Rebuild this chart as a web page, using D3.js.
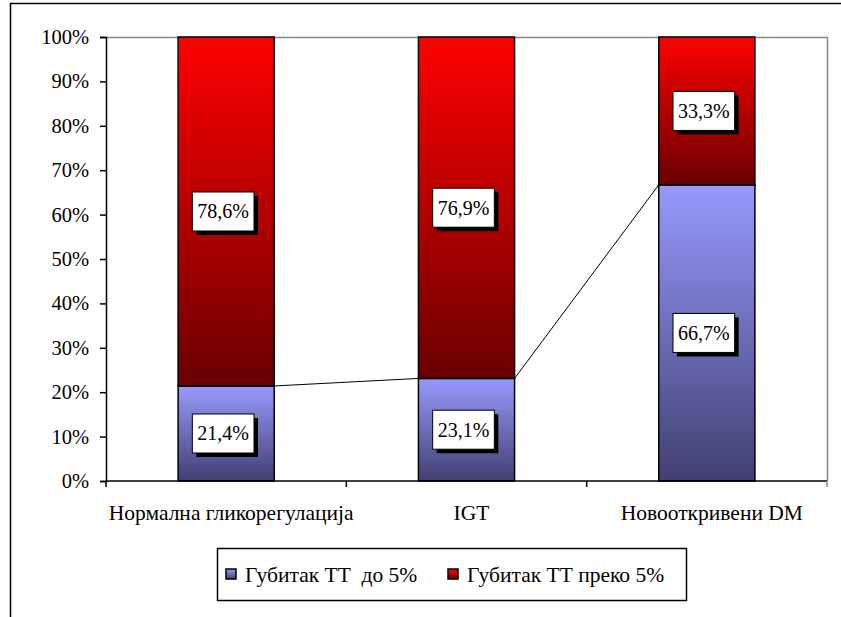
<!DOCTYPE html>
<html><head><meta charset="utf-8">
<script src="https://cdn.jsdelivr.net/npm/d3@7"></script>
<style>html,body{margin:0;padding:0;background:#fff;}svg{display:block;}</style>
</head><body>
<svg id="c" width="841" height="617"></svg>
<script>
const categories = ["Нормална гликорегулација", "IGT", "Новооткривени DM"];
const seriesNames = ["Губитак ТТ  до 5%", "Губитак ТТ преко 5%"];
const lossUpTo5 = [21.4, 23.1, 66.7];
const lossOver5 = [78.6, 76.9, 33.3];
const yTicks = [0, 10, 20, 30, 40, 50, 60, 70, 80, 90, 100];

(function () {
const FONT = '"Liberation Serif"';
const svg = d3.select("#c");
const defs = svg.append("defs");
function grad(id, c1, c2) {
  const g = defs.append("linearGradient").attr("id", id).attr("x1", 0).attr("y1", 0).attr("x2", 0).attr("y2", 1);
  g.append("stop").attr("offset", "0%").attr("stop-color", c1);
  g.append("stop").attr("offset", "100%").attr("stop-color", c2);
}
grad("gBlue", "#9999ff", "#404070");
grad("gRed", "#ff0000", "#6a0000");
const fills = ["url(#gBlue)", "url(#gRed)"];

// outer chart frame (clipped by page)
svg.append("rect").attr("x", 10.5).attr("y", 3.5).attr("width", 900).attr("height", 700)
  .attr("fill", "none").attr("stroke", "#000").attr("stroke-width", 1.5);

const pl = 106, pr = 827, pt = 37, pb = 481;
const x = d3.scaleBand().domain(categories).range([pl, pr]).paddingInner(0.6).paddingOuter(0.3);
const y = d3.scaleLinear().domain([0, 100]).range([pb, pt]);

// plot area border (top & right, gray)
svg.append("path").attr("d", `M${pl},${pt+0.5}H${pr+0.5}V${pb}`)
  .attr("fill", "none").attr("stroke", "#888").attr("stroke-width", 1.5);

const data = categories.map((c, i) => ({ cat: c, vals: [lossUpTo5[i], lossOver5[i]] }));

// bars
data.forEach(d => {
  let base = 0;
  d.vals.forEach((v, s) => {
    svg.append("rect")
      .attr("x", x(d.cat)).attr("width", x.bandwidth())
      .attr("y", y(base + v)).attr("height", y(base) - y(base + v))
      .attr("fill", fills[s]).attr("stroke", "#000").attr("stroke-width", 1.5);
    base += v;
  });
});

// series lines between top of first series
for (let i = 0; i < categories.length - 1; i++) {
  svg.append("line")
    .attr("x1", x(categories[i]) + x.bandwidth()).attr("y1", y(lossUpTo5[i]))
    .attr("x2", x(categories[i + 1])).attr("y2", y(lossUpTo5[i + 1]))
    .attr("stroke", "#000").attr("stroke-width", 1);
}

// axes
const yAxis = d3.axisLeft(y).tickValues(yTicks).tickFormat(d => d + "%").tickSize(6).tickPadding(11);
const gy = svg.append("g").attr("transform", `translate(${pl},0)`).call(yAxis);
gy.select(".domain").attr("stroke", "#000").attr("stroke-width", 1.5);
gy.selectAll(".tick line").attr("stroke", "#000").attr("stroke-width", 1.5);
gy.selectAll("text").attr("fill", "#000").style("font-family", FONT).style("font-size", "20.5px");

const gx = svg.append("g").attr("transform", `translate(0,${pb})`);
gx.append("line").attr("x1", pl).attr("x2", pr).attr("stroke", "#000").attr("stroke-width", 1.5);
const bx = [0, 1, 2, 3].map(k => pl + k * (pr - pl) / 3);
bx.forEach((b, k) => gx.append("line").attr("x1", b).attr("x2", b).attr("y1", 0).attr("y2", 6)
  .attr("stroke", k === 3 ? "#888" : "#000").attr("stroke-width", 1.5));
categories.forEach(c => {
  gx.append("text").attr("x", x(c) + x.bandwidth() / 2 + 5).attr("y", 39)
    .attr("text-anchor", "middle").attr("fill", "#000")
    .style("font-family", FONT).style("font-size", "21.5px").text(c);
});

// data labels
data.forEach(d => {
  let base = 0;
  d.vals.forEach(v => {
    const cy = y(base + v / 2), cx = x(d.cat) + x.bandwidth() / 2 - 3;
    const g = svg.append("g");
    const t = g.append("text").attr("x", cx).attr("y", cy + 7).attr("text-anchor", "middle")
      .attr("fill", "#000").style("font-family", FONT).style("font-size", "20px")
      .text(d3.format(".1f")(v).replace(".", ",") + "%");
    const bb = t.node().getBBox();
    const w = bb.width + 10, h = 39;
    g.insert("rect", "text").attr("x", cx - w / 2 + 4).attr("y", cy - h / 2 + 4).attr("width", w).attr("height", h).attr("fill", "#000");
    g.insert("rect", "text").attr("x", cx - w / 2).attr("y", cy - h / 2).attr("width", w).attr("height", h)
      .attr("fill", "#fff").attr("stroke", "#000").attr("stroke-width", 1);
    base += v;
  });
});

// legend
const lg = svg.append("g");
lg.append("rect").attr("x", 217.5).attr("y", 548.5).attr("width", 469).attr("height", 52)
  .attr("fill", "#fff").attr("stroke", "#000").attr("stroke-width", 1.5);
const legX = [226, 448];
seriesNames.forEach((n, i) => {
  lg.append("rect").attr("x", legX[i]).attr("y", 569).attr("width", 10).attr("height", 10)
    .attr("fill", fills[i]).attr("stroke", "#000").attr("stroke-width", 1.5);
  lg.append("text").attr("x", legX[i] + 19).attr("y", 582).attr("fill", "#000")
    .style("font-family", FONT).style("font-size", "21.5px").style("white-space", "pre").text(n);
});
})();
</script>
</body></html>
